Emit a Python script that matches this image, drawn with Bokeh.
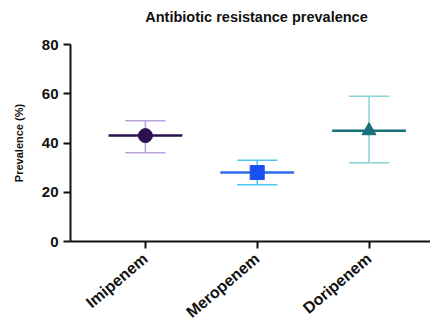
from bokeh.plotting import figure
from bokeh.models import FixedTicker, Range1d
from bokeh.embed import file_html
from bokeh.resources import INLINE

categories = ["Imipenem", "Meropenem", "Doripenem"]
xpos = [1, 2, 3]
means = [43, 28, 45]
lows = [36, 23, 32]
highs = [49, 33, 59]
marker_colors = ["#2b1150", "#1a4ff0", "#16707a"]
line_colors = ["#2b1150", "#2e6be6", "#16707a"]
err_colors = ["#b8a3e0", "#4cc8f0", "#8ad4d8"]
markers = ["circle", "square", "triangle"]
y_ticks = [0, 20, 40, 60, 80]

p = figure(width=430, height=330, output_backend="svg", toolbar_location=None,
           x_range=Range1d(0.33, 3.55), y_range=Range1d(0, 80),
           min_border_left=70, min_border_right=0, min_border_top=44, min_border_bottom=85,
           title="Antibiotic resistance prevalence")
p.title.align = "center"
p.title.text_font = "Liberation Sans"
p.title.text_font_size = "14.5px"
p.title.text_font_style = "bold"
p.title.text_color = "#111111"
p.title.padding = (12, 0, 0, 15)
p.outline_line_color = None
p.xgrid.visible = False
p.ygrid.visible = False

mean_half = 0.33
cap_half = 0.18
for i in range(3):
    x = xpos[i]
    p.segment(x0=[x], y0=[lows[i]], x1=[x], y1=[highs[i]], line_color=err_colors[i], line_width=1.5)
    p.segment(x0=[x - cap_half, x - cap_half], y0=[lows[i], highs[i]],
              x1=[x + cap_half, x + cap_half], y1=[lows[i], highs[i]],
              line_color=err_colors[i], line_width=1.5)
    p.segment(x0=[x - mean_half], y0=[means[i]], x1=[x + mean_half], y1=[means[i]],
              line_color=line_colors[i], line_width=2.5)
    p.scatter(x=[x], y=[means[i]], marker=markers[i], size=14,
              fill_color=marker_colors[i], line_color=marker_colors[i])

for ax in (p.xaxis[0], p.yaxis[0]):
    ax.axis_line_width = 2
    ax.axis_line_color = "#111111"
    ax.major_tick_line_width = 2
    ax.major_tick_line_color = "#111111"
    ax.major_tick_in = 0
    ax.major_tick_out = 7
    ax.minor_tick_line_color = None
    ax.major_label_text_font = "Liberation Sans"
    ax.major_label_text_font_style = "bold"
    ax.major_label_text_font_size = "15px"
    ax.major_label_text_color = "#111111"

p.xaxis.ticker = FixedTicker(ticks=xpos)
p.xaxis.major_label_overrides = {x: c for x, c in zip(xpos, categories)}
p.xaxis.major_label_orientation = 0.7
p.xaxis.major_label_standoff = 8
p.xaxis.major_label_text_font_size = "16px"

p.yaxis.ticker = FixedTicker(ticks=y_ticks)
p.yaxis.axis_label = "Prevalence (%)"
p.yaxis.axis_label_standoff = 14
p.yaxis.axis_label_text_font = "Liberation Sans"
p.yaxis.axis_label_text_font_style = "bold"
p.yaxis.axis_label_text_font_size = "11px"
p.yaxis.axis_label_text_color = "#111111"

open("out.html", "w").write(file_html(p, INLINE))
